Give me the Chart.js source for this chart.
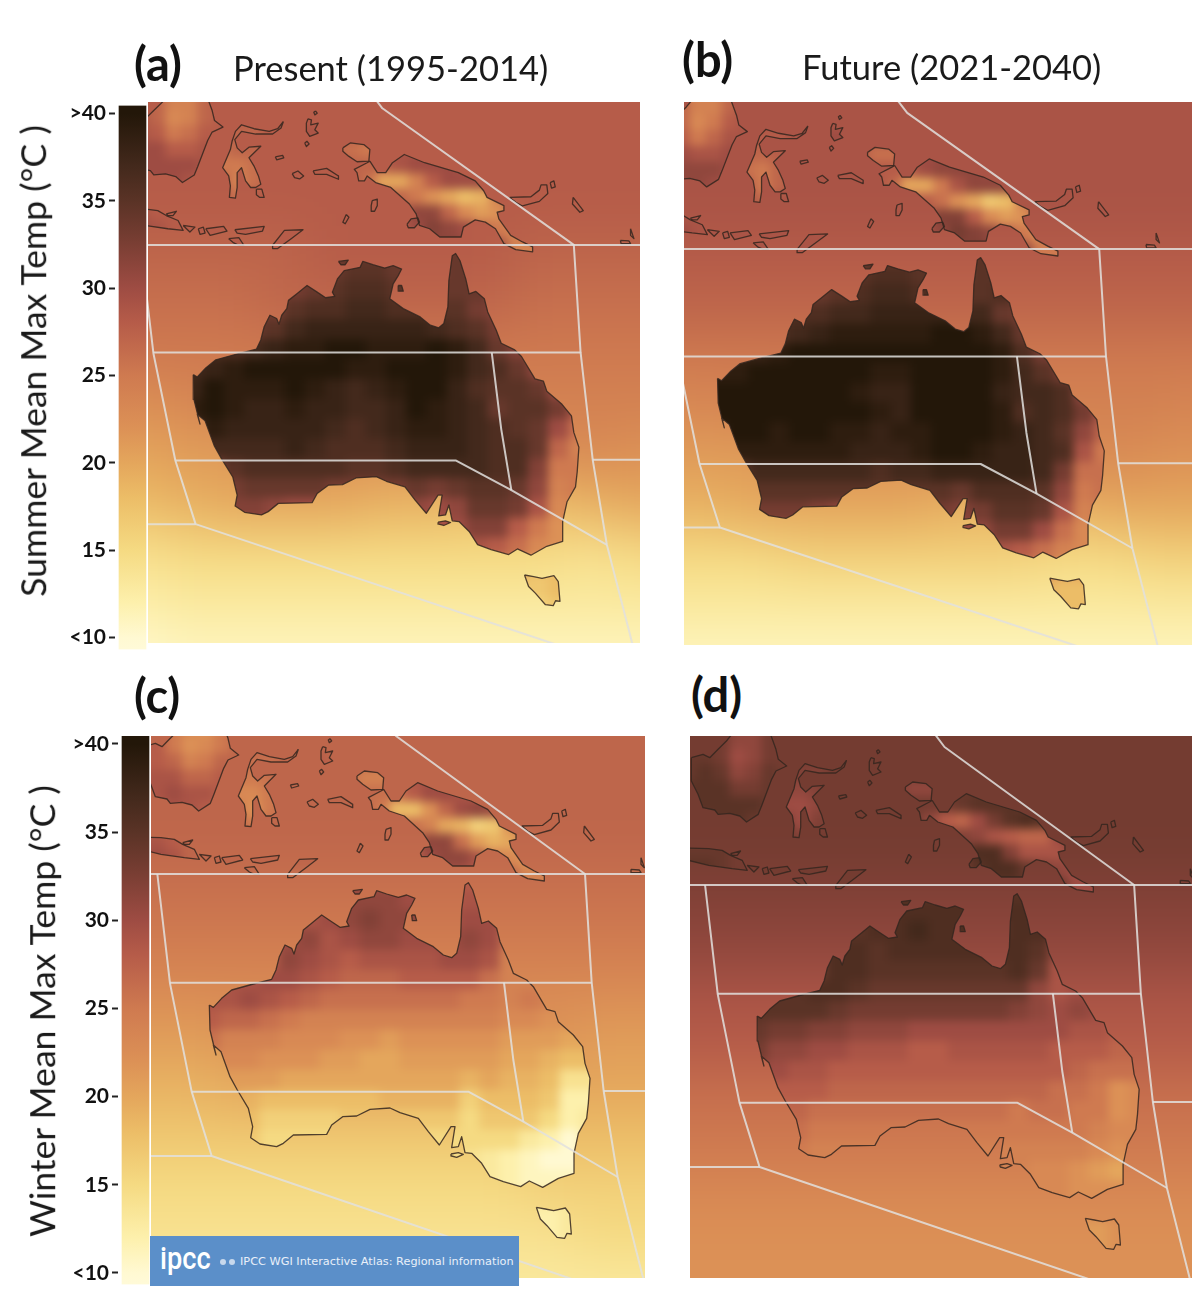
<!DOCTYPE html>
<html><head><meta charset="utf-8">
<script src="https://cdn.jsdelivr.net/npm/chart.js@4"></script>
<style>
html,body{margin:0;padding:0;background:#fff;width:1192px;height:1304px;overflow:hidden}
canvas{position:absolute}
.t{position:absolute;white-space:nowrap;font-family:Lato,sans-serif;color:#111;line-height:1}
.b{font-weight:700;font-size:47px}
.p{font-size:34.5px;color:#1a1a1a}
.v{font-size:35.6px;color:#1a1a1a;transform:translate(-50%,-50%) rotate(-90deg)}
#banner{position:absolute;left:150px;top:1236px;width:369px;height:50px;background:#5b8fc9;color:#e9f0f9}
#banner .logo{position:absolute;left:10px;top:4px;font:500 32px/36px Roboto,sans-serif;color:#fff;transform:scaleX(.85);transform-origin:left}
#banner .txt{position:absolute;left:90px;top:19px;font:11.3px/13px "DejaVu Sans",sans-serif;white-space:nowrap}
#banner i{position:absolute;top:23px;width:6px;height:6px;border-radius:50%;background:#c7d8ec}
</style></head><body>
<canvas id="cbA" width="150" height="575" style="left:0;top:90px"></canvas>
<canvas id="cbC" width="153" height="585" style="left:0;top:715px"></canvas>
<canvas id="mapA" width="492" height="541" style="left:148px;top:102px"></canvas>
<canvas id="mapB" width="508" height="543" style="left:684px;top:102px"></canvas>
<canvas id="mapC" width="494" height="542" style="left:151px;top:736px"></canvas>
<canvas id="mapD" width="502" height="542" style="left:690px;top:736px"></canvas>
<div class="t b" style="left:134px;top:40px">(a)</div>
<div class="t p" style="left:233px;top:51px">Present (1995-2014)</div>
<div class="t b" style="left:682px;top:36px">(b)</div>
<div class="t p" style="left:802px;top:50px">Future (2021-2040)</div>
<div class="t b" style="left:134px;top:672px">(c)</div>
<div class="t b" style="left:691px;top:671px">(d)</div>
<div class="t v" style="left:33px;top:361px">Summer Mean Max Temp (°C )</div>
<div class="t v" style="left:42px;top:1011px">Winter Mean Max Temp (°C )</div>
<div id="banner"><div class="logo">ipcc</div><i style="left:70px"></i><i style="left:79px"></i><div class="txt">IPCC WGI Interactive Atlas: Regional information</div></div>
<script>
// ---------- colour scale ----------
const cmapValues=[10,12,15,18,20,22,25,28,30,33,35,37,40];
const cmapColors=['#fff9d2','#fdf0ac','#f5da82','#ecbd67','#e4a65c','#dc9156','#cf7a50','#b65c49','#9e4c43','#743c31','#5a3326','#43291c','#231709'];
const barTicks=[10,15,20,25,30,35,40];
const barTickText=['<10','15','20','25','30','35','>40'];
// ---------- grids (map units) ----------
const seaX0=-150,seaY0=-550,seaStep=150;
const seaA=[
[28,28,28,28,28,28,28,28,28,28,28,28,28],[28,28,28,28,28,28,28,28,28,28,28,28,28],[28,28,28,28,28,28,28,28,28,28,28,28,28],[28,28,28,28,28,28,28,28,28,28,28,28,28],
[27,27,27,27,27,28,28,28,28,27,27,27,27],[26,26,26,26,27,27,27,27,27,26,26,26,26],[25,25,25,25,25,25,25,25,25,25,25,25,25],[22,22,23,24,24,24,24,24,24,24,24,24,23],
[20,20,21,21,22,22,22,22,22,22,23,22,22],[17,18,19,20,20,20,19,19,18,18,19,20,20],[14,14,15,15,15,15,15,15,15,15,14,15,16],[12,12,13,13,13,13,13,13,13,13,13,13,13],
[10,10,11,11,11,11,11,11,11,11,11,11,11],[10,10,10,10,10,10,10,10,10,10,10,10,10]];
const seaB=[
[29,29,29,29,29,29,29,29,29,29,29,29,29],[29,29,29,29,29,29,29,29,29,29,29,29,29],[29,29,29,29,29,29,29,29,29,29,29,29,29],[29,29,29,29,29,29,29,29,29,29,29,29,29],
[28,28,28,28,28,28,28,28,28,28,28,28,28],[27,27,27,27,27,27,27,27,27,27,27,27,27],[25,25,25,25,25,25,25,25,25,25,25,25,25],[23,23,23,24,24,24,24,24,24,24,24,24,23],
[20,20,21,21,22,22,22,22,22,22,23,22,22],[18,18,19,20,20,20,20,19,19,19,20,20,20],[15,15,15,15,16,16,16,16,16,15,15,16,16],[13,13,13,13,13,13,13,13,13,13,13,13,13],
[11,11,11,11,11,11,11,11,11,11,11,11,11],[10,10,10,10,10,10,10,10,10,10,10,10,10]];
const seaC=[
[27,27,27,27,27,27,27,27,27,27,27,27,27],[27,27,27,27,27,27,27,27,27,27,27,27,27],[27,27,27,27,27,27,27,27,27,27,27,27,27],[27,27,27,27,27,27,27,27,27,27,27,27,27],
[26,26,26,26,26,26,26,26,26,26,26,26,26],[25,25,25,25,25,25,25,25,25,25,25,25,25],[23,23,23,23,23,23,23,23,23,23,23,23,23],[21,21,21,22,22,22,22,22,22,22,21,21,21],
[19,19,19,20,20,20,20,20,20,20,20,20,20],[17,17,17,17,17,17,17,17,17,18,18,18,18],[15,15,15,15,15,15,15,15,15,16,16,16,17],[14,14,14,14,14,14,14,14,14,14,15,15,15],
[13,13,13,13,13,13,13,13,13,13,13,13,13],[13,13,13,13,13,13,13,13,13,13,13,13,13]];
const seaD=[
[33,33,33,33,33,33,33,33,33,33,33,33,33],[33,33,33,33,33,33,33,33,33,33,33,33,33],[33,33,33,33,33,33,33,33,33,33,33,33,33],[33,33,33,33,33,33,33,33,33,33,33,33,33],
[32,32,32,32,32,32,32,32,32,32,32,32,32],[31,31,31,31,31,31,31,31,31,31,31,31,31],[29,29,29,29,29,29,29,29,29,29,29,29,29],[28,28,28,28,28,28,28,28,28,28,28,28,28],
[26,26,26,26,26,26,26,26,26,26,26,26,26],[25,25,25,25,25,25,25,25,25,25,25,25,25],[23,23,23,23,23,23,23,23,23,23,23,23,23],[22,22,22,22,22,22,22,22,22,22,22,22,22],
[22,22,22,22,22,22,22,22,22,22,22,22,22],[22,22,22,22,22,22,22,22,22,22,22,22,22]];

const landX0=180,landY0=30,landStep=60;
const landA=[
[28,28,28,28,28,28,28,33,33,33,33,33,33,34,34,30,24,24,24,24],
[33,33,33,33,33,33,34,34,35,35,34,34,33,34,34,33,30,30,30,30],
[33,33,33,33,33,33,34,35,36,36,35,35,34,34,34,33,30,30,30,30],
[33,33,33,33,33,35,36,36,37,37,36,36,35,35,33,32,30,30,30,30],
[34,34,34,34,35,37,38,38,38,38,38,38,37,36,35,33,31,30,30,30],
[36,36,36,37,38,39,39,40,40,39,39,39,40,39,37,34,32,30,30,30],
[37,38,39,40,40,40,40,40,39,39,40,40,40,39,37,36,34,31,30,30],
[38,40,39,39,39,40,39,38,37,38,39,40,40,38,36,35,35,34,30,30],
[39,40,39,38,38,39,38,38,37,37,38,40,39,38,37,34,35,35,33,29],
[37,39,38,38,38,38,38,37,36,37,38,39,39,38,37,36,35,34,30,26],
[35,37,37,37,37,38,37,36,36,36,37,38,38,38,37,36,36,34,27,24],
[33,33,35,36,36,36,36,36,35,35,36,37,37,37,37,36,36,32,25,25],
[32,32,33,34,34,34,34,33,33,33,33,34,33,34,35,35,34,31,24,25],
[31,31,32,32,31,30,30,29,29,30,30,31,30,31,34,34,33,29,23,24],
[30,30,30,30,30,30,29,29,29,29,29,29,29,30,32,32,28,25,22,22],
[28,28,28,28,28,28,28,28,28,28,28,28,28,28,29,28,26,23,22,22],
[20,20,20,20,20,20,20,20,20,20,20,20,20,20,20,20,20,18,18,18],
[17,17,17,17,17,17,17,17,17,17,17,17,17,17,17,17,17,17,18,18],
[16,16,16,16,16,16,16,16,16,16,16,16,16,16,16,16,16,16,17,17]];
const landB=[
[29,29,29,29,29,29,29,33,33,33,33,33,33,35,35,31,25,25,25,25],
[33,33,33,33,33,33,35,35,36,36,35,35,34,35,35,33,30,30,30,30],
[34,34,34,34,34,34,35,36,37,37,36,36,35,35,36,34,30,30,30,30],
[34,34,34,35,36,36,37,37,38,38,38,38,37,37,34,33,30,30,30,30],
[36,36,36,36,37,38,39,39,39,39,39,40,40,39,37,34,32,30,30,30],
[38,38,38,39,40,40,40,41,41,40,40,40,41,41,39,36,33,31,30,30],
[39,39,41,41,41,41,41,41,39,39,40,41,41,41,39,37,35,33,30,30],
[40,41,41,41,41,41,40,39,38,38,40,41,41,40,38,37,37,36,31,30],
[41,41,41,40,40,40,40,40,39,38,40,41,41,40,39,36,37,36,33,29],
[39,41,40,39,40,40,39,39,38,39,39,41,41,40,39,38,37,35,31,27],
[36,39,39,39,39,39,39,38,38,38,39,40,40,39,38,38,37,36,29,25],
[34,34,37,37,37,37,37,37,36,37,37,38,38,38,38,38,37,33,26,26],
[33,33,35,35,35,35,35,35,35,35,35,35,34,36,36,36,35,31,25,26],
[32,32,33,33,33,32,31,31,31,32,32,33,32,33,35,35,34,29,24,25],
[30,30,30,30,30,30,30,30,30,30,30,30,30,31,33,33,30,26,23,23],
[29,29,29,29,29,29,29,29,29,29,29,29,29,29,29,28,26,24,23,23],
[22,22,22,22,22,22,22,22,22,22,22,22,22,22,22,22,22,20,20,20],
[19,19,19,19,19,19,19,19,19,19,19,19,19,19,19,19,19,18,18,18],
[18,18,18,18,18,18,18,18,18,18,18,18,18,18,18,18,18,18,18,18]];
const landC=[
[26,26,26,26,26,26,26,29,29,29,29,29,28,28,28,27,24,24,24,24],
[28,28,28,28,28,28,29,31,31,31,30,29,28,29,29,28,26,26,26,26],
[28,28,28,28,29,29,30,31,32,31,31,30,29,30,30,29,26,26,26,26],
[28,28,28,28,30,31,29,30,31,31,30,30,30,31,30,26,25,25,25,25],
[28,28,28,28,31,30,29,28,29,29,29,29,30,30,29,24,24,24,24,24],
[29,29,29,30,30,29,28,27,27,27,28,28,28,28,26,24,24,24,24,24],
[29,29,30,29,28,27,26,26,26,26,26,26,26,25,25,24,25,24,24,24],
[28,27,27,26,25,24,24,24,24,24,24,24,24,24,24,23,23,22,22,22],
[26,24,24,24,23,23,23,22,22,21,22,22,22,22,22,21,21,21,20,20],
[24,23,23,22,22,22,21,21,20,20,21,21,21,21,21,20,20,19,18,18],
[22,21,21,21,20,20,20,20,20,20,20,20,20,19,20,19,19,18,14,14],
[20,20,19,18,18,18,18,18,18,19,19,19,19,16,18,18,18,17,12,12],
[19,19,18,16,16,16,16,17,17,17,17,17,17,15,17,17,17,15,12,13],
[18,18,17,15,15,15,15,15,15,15,15,15,15,15,15,15,13,12,10,13],
[15,15,15,15,15,15,15,15,15,15,15,15,15,14,13,12,11,10,10,12],
[14,14,14,14,14,14,14,14,14,14,14,14,14,14,13,12,11,11,11,12],
[13,13,13,13,13,13,13,13,13,13,13,13,13,13,13,13,13,13,13,13],
[13,13,13,13,13,13,13,13,13,13,13,13,13,13,13,13,12,12,13,13],
[13,13,13,13,13,13,13,13,13,13,13,13,13,13,13,13,12,12,13,13]];
const landD=[
[33,33,33,33,33,33,33,35,35,35,35,35,35,35,35,34,30,30,30,30],
[34,34,34,34,34,34,35,36,36,36,36,36,36,36,36,33,33,33,33,33],
[34,34,34,34,35,35,36,36,37,36,36,36,35,36,36,35,32,32,32,32],
[34,34,34,34,36,36,35,36,36,36,36,36,36,36,35,31,31,31,31,31],
[34,34,34,34,36,36,35,35,35,35,35,35,35,36,34,29,30,30,30,30],
[35,35,35,36,36,35,34,34,34,34,34,34,34,34,31,29,30,30,30,30],
[35,35,35,35,34,33,33,33,33,33,33,33,33,32,31,30,31,30,29,29],
[34,33,33,32,32,31,31,31,30,30,30,30,30,30,30,30,29,29,28,28],
[33,31,31,30,30,29,29,29,28,28,29,29,29,29,29,28,28,28,27,27],
[31,30,29,29,28,28,28,28,28,28,28,28,28,28,28,28,27,26,26,26],
[29,28,28,28,27,27,27,27,27,27,27,27,27,27,27,26,26,25,22,23],
[27,27,27,26,26,26,26,26,26,26,26,26,26,25,26,26,25,25,22,23],
[26,26,26,25,25,25,25,25,25,25,25,25,25,25,25,25,25,24,23,23],
[25,25,25,24,24,24,24,24,24,24,24,24,24,24,24,24,24,23,22,24],
[24,24,24,24,24,24,24,24,24,24,24,24,24,24,23,23,22,21,20,22],
[23,23,23,23,23,23,23,23,23,23,23,23,23,23,23,23,22,22,22,22],
[23,23,23,23,23,23,23,23,23,23,23,23,23,23,23,23,23,23,23,23],
[21,21,21,21,21,21,21,21,21,21,21,21,21,21,21,21,21,21,22,22],
[21,21,21,21,21,21,21,21,21,21,21,21,21,21,21,21,21,21,22,22]];

const northX0=-24,northY0=-420,northStep=48;
const northA=[
[28,28,27,24,24,27,28,28,28,28,28,28,28,28,28,28,28,28,28,28,28,28,28,28,28,28],
[28,29,27,23,24,27,28,28,28,28,28,28,28,28,28,28,28,28,28,28,28,28,28,28,28,28],
[29,29,28,25,26,28,28,27,27,28,28,29,29,28,28,28,28,28,28,28,28,28,28,28,28,28],
[30,30,30,28,28,29,26,27,27,28,28,28,28,27,26,25,28,29,29,29,28,28,28,28,28,28],
[30,30,30,30,30,29,25,25,26,28,28,28,28,28,27,27,28,29,30,30,30,29,28,28,28,28],
[28,29,30,30,29,28,27,24,26,28,28,28,28,28,28,26,20,20,24,28,30,30,30,29,28,28],
[28,28,28,28,28,28,28,26,28,28,28,28,28,28,28,28,27,27,25,22,20,18,19,24,28,28],
[29,29,28,28,28,28,28,28,28,28,28,28,28,28,28,28,28,28,31,31,27,23,21,22,27,28],
[30,30,29,28,28,28,28,28,28,28,28,28,28,28,28,28,28,28,30,32,31,30,27,25,24,27],
[28,28,28,28,28,28,28,28,28,28,28,28,28,28,28,28,28,28,28,30,30,29,28,27,24,25]];
const northB=[
[29,29,27,24,24,27,29,29,29,29,29,29,29,29,29,29,29,29,29,29,29,29,29,29,29,29],
[29,29,27,23,25,28,29,29,29,29,29,29,29,29,29,29,29,29,29,29,29,29,29,29,29,29],
[30,30,28,25,27,29,29,28,28,29,29,30,30,29,29,29,29,29,29,29,29,29,29,29,29,29],
[31,31,30,29,29,30,27,27,28,29,29,29,29,28,26,26,29,30,30,30,29,29,29,29,29,29],
[31,31,31,31,31,30,26,25,27,29,29,29,29,29,28,28,28,30,31,31,31,30,29,29,29,29],
[29,30,31,31,30,29,28,25,27,29,29,29,29,29,29,27,20,20,25,29,31,31,31,30,29,29],
[29,29,29,29,29,29,29,27,29,29,29,29,29,29,29,29,28,28,26,22,20,17,18,24,29,29],
[30,30,29,29,29,29,29,29,29,29,29,29,29,29,29,29,29,29,32,32,28,23,21,22,28,29],
[31,31,30,29,29,29,29,29,29,29,29,29,29,29,29,29,29,29,31,33,32,31,28,25,23,27],
[29,29,29,29,29,29,29,29,29,29,29,29,29,29,29,29,29,29,29,31,31,30,29,28,24,25]];
const northC=[
[26,27,25,23,22,25,27,27,27,27,27,27,27,27,27,27,27,27,27,27,27,27,27,27,27,27],
[27,28,25,22,23,25,27,27,27,27,27,27,27,27,27,27,27,27,27,27,27,27,27,27,27,27],
[28,28,27,24,25,27,27,26,26,27,27,28,27,27,27,26,27,27,27,27,27,27,27,27,27,27],
[29,29,29,27,27,28,25,25,26,27,27,27,27,26,24,24,27,29,29,28,27,27,27,27,27,27],
[29,29,30,29,29,28,23,23,25,27,27,27,27,27,26,26,26,28,30,30,29,28,27,27,27,27],
[27,28,29,29,28,27,25,22,25,27,27,27,27,27,27,25,18,18,22,27,30,31,30,28,27,27],
[27,27,27,27,27,27,27,25,27,27,27,27,27,27,27,27,26,26,24,20,19,16,17,22,27,27],
[29,29,28,27,27,27,27,27,27,27,27,27,27,27,27,27,27,27,31,31,26,21,19,20,25,27],
[30,30,29,27,27,27,27,27,27,27,27,27,27,27,27,27,27,27,30,31,31,29,25,23,22,25],
[27,27,27,27,27,27,27,27,27,27,27,27,27,27,27,27,27,27,27,30,30,28,27,26,22,24]];
const northD=[
[33,34,33,31,31,33,33,33,33,33,33,33,33,33,33,33,33,33,33,33,33,33,33,33,33,33],
[34,34,33,30,31,33,33,33,33,33,33,33,33,33,33,33,33,33,33,33,33,33,33,33,33,33],
[34,35,34,31,32,34,33,32,32,33,33,33,33,33,33,33,33,33,33,33,33,33,33,33,33,33],
[35,35,35,33,33,34,31,31,32,33,33,33,33,32,31,31,33,34,34,34,33,33,33,33,33,33],
[35,35,35,35,35,34,30,30,31,33,33,33,33,33,33,33,33,34,35,35,35,34,33,33,33,33],
[33,34,35,35,34,33,32,30,32,33,33,33,33,33,33,31,28,27,30,33,35,36,35,34,33,33],
[33,33,33,33,33,33,33,32,33,33,33,33,33,33,33,33,32,32,31,29,28,27,27,30,33,33],
[34,34,34,33,33,33,33,33,33,33,33,33,33,33,33,33,33,33,36,36,32,29,29,29,32,33],
[35,35,34,33,33,33,33,33,33,33,33,33,33,33,33,33,33,33,35,36,36,34,32,31,30,32],
[33,33,33,33,33,33,33,33,33,33,33,33,33,33,33,33,33,33,33,35,35,34,33,32,30,31]];

// ---------- coastlines and IPCC region outlines (map units) ----------
const australia=[[178,405],[190,412],[215,385],[245,360],[310,342],[365,328],[378,300],[388,260],[405,225],[425,235],[432,252],[440,225],[455,205],[460,180],[485,160],[515,135],[545,155],[570,172],[597,168],[590,155],[605,115],[625,90],[672,80],[680,62],[710,72],[745,82],[770,75],[795,85],[785,105],[770,130],[760,175],[800,205],[850,230],[880,255],[905,263],[920,250],[932,200],[935,120],[945,45],[955,38],[968,60],[985,115],[995,160],[1015,153],[1040,175],[1050,215],[1075,270],[1090,310],[1130,330],[1150,350],[1190,418],[1215,425],[1225,455],[1270,495],[1298,530],[1305,580],[1320,625],[1315,700],[1310,745],[1285,790],[1272,850],[1272,910],[1225,925],[1178,952],[1138,933],[1112,950],[1060,935],[1020,920],[995,880],[965,850],[945,848],[935,800],[925,830],[905,833],[915,770],[903,770],[868,825],[835,785],[805,745],[750,728],[720,714],[660,718],[620,738],[578,740],[545,765],[530,793],[430,795],[400,820],[380,830],[330,822],[302,803],[308,770],[295,715],[262,660],[240,620],[213,545],[190,525],[198,555],[180,480]];
const tasmania=[[1159,1012],[1186,1017],[1211,1022],[1246,1014],[1259,1032],[1264,1092],[1251,1090],[1244,1105],[1221,1102],[1191,1067],[1171,1047]];
const borneo=[[-19,-370],[16,-380],[36,-370],[61,-395],[86,-420],[106,-445],[216,-445],[234,-395],[241,-365],[266,-345],[234,-330],[221,-305],[191,-225],[181,-200],[146,-177],[126,-195],[96,-203],[61,-200],[51,-213],[16,-220],[1,-260],[-19,-300]];
const sulawesi=[[445,-362],[428,-340],[403,-332],[358,-340],[321,-352],[303,-332],[293,-302],[288,-277],[265,-222],[283,-197],[288,-167],[285,-132],[303,-130],[308,-162],[308,-207],[321,-222],[333,-182],[348,-162],[363,-162],[378,-172],[371,-197],[358,-227],[343,-252],[378,-287],[343,-284],[323,-267],[308,-282],[301,-307],[321,-332],[363,-324],[413,-324],[438,-342]];
const newGuinea=[[701,-242],[723,-207],[748,-207],[768,-237],[803,-262],[863,-237],[963,-207],[1013,-182],[1038,-152],[1048,-132],[1098,-107],[1098,-92],[1078,-87],[1083,-67],[1118,-17],[1153,3],[1183,18],[1183,33],[1133,26],[1098,8],[1073,-37],[1043,-57],[1013,-64],[978,-42],[971,-12],[908,-12],[878,-37],[848,-47],[838,-82],[818,-112],[763,-162],[718,-177],[693,-197],[685,-182],[668,-182],[663,-207],[655,-217],[693,-237]];
const birdsHead=[[621,-282],[643,-297],[683,-292],[701,-277],[698,-242],[663,-240],[638,-257],[621,-272]];
const smallIslands=[
[[518,-370],[528,-367],[526,-352],[548,-357],[538,-337],[548,-327],[523,-317],[513,-332],[513,-357]],
[[540,-394],[545,-387],[538,-382],[535,-390]],
[[508,-297],[515,-302],[521,-294],[513,-286]],
[[421,-255],[443,-259],[446,-252],[425,-246]],
[[471,-204],[488,-212],[505,-197],[493,-188],[478,-192]],
[[533,-212],[573,-220],[608,-197],[608,-187],[573,-202],[538,-202]],
[[365,-157],[381,-157],[388,-132],[375,-132],[365,-140]],
[[811,-50],[823,-67],[843,-70],[848,-57],[833,-40],[815,-40]],
[[708,-122],[723,-127],[723,-107],[715,-90],[705,-90],[705,-107]],
[[631,-80],[639,-72],[628,-52],[621,-57]],
[[1115,-132],[1178,-134],[1203,-154],[1208,-170],[1225,-170],[1228,-144],[1203,-120],[1153,-106],[1133,-117]],
[[1235,-177],[1246,-182],[1250,-164],[1239,-160]],
[[1303,-132],[1333,-92],[1323,-87],[1301,-112]],
[[1473,-37],[1483,-7],[1473,-17]],
[[1443,-2],[1468,0],[1473,8],[1445,8]],
[[-60,-100],[33,-97],[73,-92],[98,-77],[133,-62],[148,-32],[103,-37],[33,-47],[-60,-70]],
[[98,-82],[128,-90],[118,-77],[103,-77]],
[[148,-47],[183,-42],[168,-27]],
[[193,-37],[208,-42],[213,-24],[198,-20]],
[[215,-37],[268,-44],[278,-30],[228,-17]],
[[301,-34],[388,-44],[383,-30],[333,-20],[308,-24]],
[[283,-7],[313,-10],[328,13],[313,13],[298,6]],
[[413,13],[448,-32],[503,-34],[468,-7],[428,23],[413,23]],
[[608,62],[637,58],[628,72],[615,72]],
[[785,135],[795,135],[800,152],[787,152]],
[[903,852],[925,848],[940,853],[920,862],[905,858]]];
const regionLines=[
[[-200,12],[1305,12],[2000,12]],
[[500,-720],[738,-402],[1305,12],[1325,337],[1361,663],[1403,921],[1477,1215],[1490,1260]],
[[22,12],[60,340],[125,665],[185,858],[1280,1232]],
[[60,338],[1325,338]],
[[125,665],[955,665],[1120,755],[1403,921]],
[[1062,338],[1090,570],[1120,755]],
[[1361,663],[2000,663]],
[[-200,858],[185,858]]];
const panels={
 mapA:{x:[44,1501],y:[-421,1218],sea:seaA,land:landA,north:northA},
 mapB:{x:[79,1579],y:[-435,1215],sea:seaB,land:landB,north:northB},
 mapC:{x:[3,1485],y:[-402,1224],sea:seaC,land:landC,north:northC},
 mapD:{x:[-23,1478],y:[-435,1191],sea:seaD,land:landD,north:northD}};

function hex(s){return [1,3,5].map(i=>parseInt(s.substr(i,2),16));}
function colorFor(v){
 if(v<=cmapValues[0])return cmapColors[0];
 for(let i=1;i<cmapValues.length;i++){if(v<=cmapValues[i]){
  const t=(v-cmapValues[i-1])/(cmapValues[i]-cmapValues[i-1]),a=hex(cmapColors[i-1]),b=hex(cmapColors[i]);
  return 'rgb('+a.map((c,k)=>Math.round(c+(b[k]-c)*t)).join(',')+')';}}
 return cmapColors[cmapColors.length-1];
}
function gridData(g,x0,y0,step){const out=[],col=[];g.forEach((r,j)=>r.forEach((v,i)=>{out.push({x:x0+i*step,y:y0+j*step});col.push(colorFor(v));}));return{out,col};}
function cells(g,x0,y0,step,r,order,layer){const d=gridData(g,x0,y0,step);return{type:'scatter',data:d.out,pointBackgroundColor:d.col,pointBorderWidth:0,pointStyle:'rect',pointRadius:r,showLine:false,order,layer};}
function outline(p,color,w,closed,order){const pts=p.map(([x,y])=>({x,y}));if(closed)pts.push(pts[0]);return{type:'scatter',data:pts,showLine:true,fill:false,tension:0,pointRadius:0,borderColor:color,borderWidth:w,borderJoinStyle:'round',order};}
const landPolys=[australia,tasmania,borneo,sulawesi,newGuinea,birdsHead].concat(smallIslands);

function blurOver(chart,sigma){
 const c=chart.canvas,w=c.width,h=c.height,P=Math.ceil(sigma*3);
 const e=document.createElement('canvas');e.width=w+2*P;e.height=h+2*P;const ex=e.getContext('2d');
 ex.drawImage(c,0,0,1,h,0,P,P,h);ex.drawImage(c,w-1,0,1,h,w+P,P,P,h);
 ex.drawImage(c,0,0,w,1,P,0,w,P);ex.drawImage(c,0,h-1,w,1,P,h+P,w,P);
 ex.drawImage(c,0,0,1,1,0,0,P,P);ex.drawImage(c,w-1,0,1,1,w+P,0,P,P);ex.drawImage(c,0,h-1,1,1,0,h+P,P,P);ex.drawImage(c,w-1,h-1,1,1,w+P,h+P,P,P);
 ex.drawImage(c,P,P);
 const t=document.createElement('canvas');t.width=w;t.height=h;const x=t.getContext('2d');x.filter='blur('+sigma+'px)';x.drawImage(e,-P,-P);
 chart.ctx.drawImage(t,0,0);
}
const layers={id:'layers',afterDatasetDraw(chart,args){
 const layer=chart.data.datasets[args.index].layer,ctx=chart.ctx,c=chart.canvas;
 if(layer==='land'){
  blurOver(chart,5);
  const sx=chart.scales.x,sy=chart.scales.y;
  ctx.save();ctx.globalCompositeOperation='destination-in';ctx.beginPath();
  landPolys.forEach(p=>{p.forEach(([x,y],i)=>{const X=sx.getPixelForValue(x),Y=sy.getPixelForValue(y);i?ctx.lineTo(X,Y):ctx.moveTo(X,Y);});ctx.closePath();});
  ctx.fill();ctx.restore();
  const t=document.createElement('canvas');t.width=c.width;t.height=c.height;t.getContext('2d').drawImage(c,0,0);chart.$land=t;
  ctx.clearRect(0,0,c.width,c.height);
 }else if(layer==='sea'){
  blurOver(chart,26);
  ctx.drawImage(chart.$land,0,0);
 }
}};
Object.keys(panels).forEach(id=>{
 const p=panels[id],ds=[];
 ds.push(cells(p.north,northX0,northY0,northStep,12,13));
 ds.push(cells(p.land,landX0,landY0,landStep,15,12,'land'));
 ds.push(cells(p.sea,seaX0,seaY0,seaStep,37,11,'sea'));
 landPolys.forEach(q=>ds.push(outline(q,'rgba(52,38,30,.85)',1.3,true,3)));
 regionLines.forEach(q=>ds.push(outline(q,'rgba(226,224,222,.85)',2,false,2)));
 new Chart(document.getElementById(id),{type:'scatter',data:{datasets:ds},plugins:[layers],
  options:{responsive:false,animation:false,devicePixelRatio:1,events:[],layout:{padding:0,autoPadding:false},
   plugins:{legend:{display:false},tooltip:{enabled:false},title:{display:false}},
   scales:{x:{type:'linear',display:false,min:p.x[0],max:p.x[1]},y:{type:'linear',display:false,reverse:true,min:p.y[0],max:p.y[1]}}}});
});
function colorBar(id,axisWidth,padTop,padBottom,vMin,vMax){
 new Chart(document.getElementById(id),{type:'bar',
  data:{labels:[''],datasets:[{data:[[vMin,vMax]],barThickness:27,borderWidth:0,borderSkipped:false,backgroundColor(ctx){
    const y=ctx.chart.scales.y,fallback=cmapColors[6];if(!y)return fallback;
    const top=y.getPixelForValue(vMax),bot=y.getPixelForValue(vMin);
    if(!Number.isFinite(top)||!Number.isFinite(bot)||top===bot)return fallback;
    const g=ctx.chart.ctx.createLinearGradient(0,top,0,bot);
    g.addColorStop(0,cmapColors[cmapColors.length-1]);
    cmapValues.forEach((v,i)=>g.addColorStop(Math.min(1,Math.max(0,(y.getPixelForValue(v)-top)/(bot-top))),cmapColors[i]));
    g.addColorStop(1,'#fffad8');return g;}}]},
  options:{responsive:false,animation:false,devicePixelRatio:1,events:[],
   layout:{padding:{top:padTop,bottom:padBottom,left:0,right:0},autoPadding:false},
   plugins:{legend:{display:false},tooltip:{enabled:false}},
   scales:{x:{display:false},
    y:{min:vMin,max:vMax,afterFit(s){s.width=axisWidth;},
     afterBuildTicks(s){s.ticks=barTicks.map(v=>({value:v}));},
     border:{display:false},
     grid:{drawOnChartArea:false,drawTicks:true,tickLength:6,tickColor:'#222',tickWidth:2},
     ticks:{padding:3,autoSkip:false,color:'#111',font:{family:'Lato,sans-serif',weight:'700',size:21},callback(v){const i=barTicks.indexOf(v);return i<0?'':barTickText[i];}}}}}});
}
colorBar('cbA',115,14,11,9.32,40.45);
colorBar('cbC',118,21,12,9.35,40.45);
</script>
</body></html>
